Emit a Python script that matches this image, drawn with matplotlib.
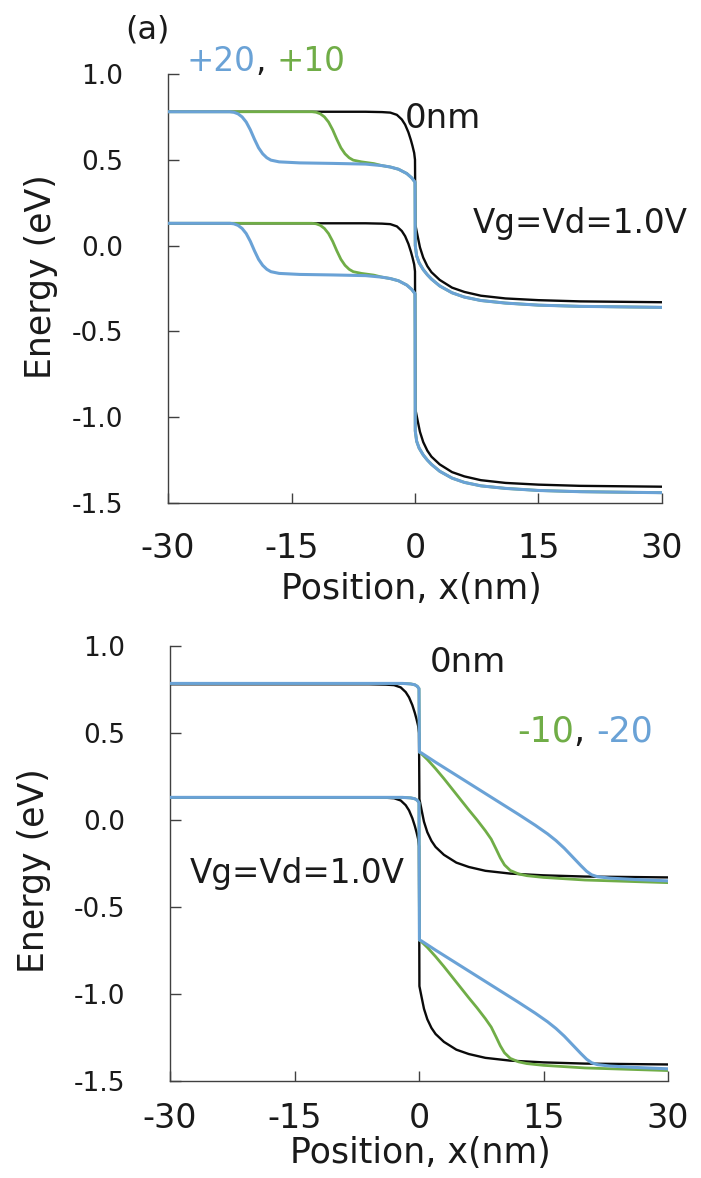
import matplotlib
matplotlib.use("Agg")
import matplotlib.pyplot as plt

plt.rcParams['font.family'] = ['DejaVu Sans']
plt.rcParams['axes.unicode_minus'] = False

BLUE = '#6aa2d6'
GREEN = '#70ad47'
BLACK = '#0a0a0a'
AXC = '#404040'

x_ticks = [-30, -15, 0, 15, 30]
x_tick_labels = ['-30', '-15', '0', '15', '30']
y_ticks = [1.0, 0.5, 0.0, -0.5, -1.0, -1.5]
y_tick_labels = ['1.0', '0.5', '0.0', '-0.5', '-1.0', '-1.5']

# ---------------- 0 nm (both panels) ----------------
x_0nm = [-30, -6, -4, -3, -2.2, -1.6, -1.2, -0.8, -0.5, -0.3, -0.1, 0.0,
         0.05, 0.3, 0.6, 1, 1.5, 2, 3, 4.5, 6, 8, 11, 15, 20, 30]
e_0nm_cb = [0.78, 0.78, 0.778, 0.775, 0.762, 0.735, 0.705, 0.66, 0.615, 0.58, 0.54, 0.5,
            0.12, 0.06, -0.01, -0.07, -0.12, -0.155, -0.2, -0.245, -0.27, -0.292, -0.308, -0.318, -0.325, -0.33]
e_0nm_vb = [0.13, 0.13, 0.128, 0.125, 0.112, 0.085, 0.055, 0.01, -0.035, -0.07, -0.11, -0.15,
            -0.955, -1.015, -1.085, -1.145, -1.195, -1.23, -1.275, -1.32, -1.345, -1.367, -1.383, -1.393, -1.4, -1.405]

# ---------------- top panel: +20 nm, +10 nm ----------------
x_p20 = [-30, -22.5, -22, -21.5, -21, -20.5, -20, -19.5, -19, -18.5, -18, -17.5, -16.5, -14, -10,
         -6, -4, -3, -2, -1, -0.4, 0.0,
         0.03, 0.2, 0.5, 1, 1.5, 2, 3, 4.5, 6, 8, 11, 15, 20, 30]
e_p20_cb = [0.78, 0.78, 0.777, 0.768, 0.75, 0.72, 0.675, 0.62, 0.57, 0.535, 0.512, 0.498, 0.488, 0.482, 0.479,
            0.475, 0.466, 0.458, 0.445, 0.42, 0.395, 0.37,
            0.0, -0.06, -0.1, -0.14, -0.17, -0.195, -0.235, -0.275, -0.3, -0.32, -0.335, -0.347, -0.354, -0.36]
e_p20_vb = [0.13, 0.13, 0.127, 0.118, 0.1, 0.07, 0.025, -0.03, -0.08, -0.115, -0.138, -0.152, -0.162, -0.168, -0.171,
            -0.175, -0.184, -0.192, -0.205, -0.23, -0.255, -0.28,
            -1.08, -1.14, -1.18, -1.22, -1.25, -1.275, -1.315, -1.355, -1.38, -1.4, -1.415, -1.427, -1.434, -1.44]

x_p10 = [-30, -12.5, -12, -11.5, -11, -10.5, -10, -9.5, -9, -8.5, -8, -7.5, -6.5, -5,
         -4, -3, -2, -1, -0.4, 0.0,
         0.03, 0.2, 0.5, 1, 1.5, 2, 3, 4.5, 6, 8, 11, 15, 20, 30]
e_p10_cb = [0.78, 0.78, 0.777, 0.768, 0.75, 0.72, 0.675, 0.62, 0.57, 0.535, 0.512, 0.498, 0.488, 0.478,
            0.466, 0.458, 0.445, 0.42, 0.395, 0.37,
            0.0, -0.06, -0.1, -0.14, -0.17, -0.195, -0.235, -0.275, -0.3, -0.32, -0.335, -0.347, -0.354, -0.36]
e_p10_vb = [0.13, 0.13, 0.127, 0.118, 0.1, 0.07, 0.025, -0.03, -0.08, -0.115, -0.138, -0.152, -0.162, -0.172,
            -0.184, -0.192, -0.205, -0.23, -0.255, -0.28,
            -1.08, -1.14, -1.18, -1.22, -1.25, -1.275, -1.315, -1.355, -1.38, -1.4, -1.415, -1.427, -1.434, -1.44]

# ---------------- bottom panel: -10 nm, -20 nm ----------------
x_m20 = [-30, -2, -1, -0.5, -0.2, 0.0,
         0.05, 0.3, 2, 4, 6, 8, 10, 12, 14, 15.5, 16.5, 17.5, 18.5, 19.5, 20.2, 20.8, 21.5, 23, 26, 30]
e_m20_cb = [0.785, 0.785, 0.782, 0.777, 0.768, 0.755,
            0.39, 0.385, 0.332, 0.272, 0.212, 0.152, 0.092, 0.032, -0.03, -0.08, -0.118, -0.162, -0.212, -0.262,
            -0.295, -0.315, -0.326, -0.334, -0.342, -0.35]
e_m20_vb = [0.13, 0.13, 0.127, 0.122, 0.113, 0.1,
            -0.69, -0.695, -0.748, -0.808, -0.868, -0.928, -0.988, -1.048, -1.11, -1.16, -1.198, -1.242, -1.292, -1.342,
            -1.375, -1.395, -1.406, -1.414, -1.422, -1.43]

x_m10 = [-30, -2, -1, -0.5, -0.2, 0.0,
         0.05, 0.3, 1, 2, 3, 4, 5, 6, 7, 8, 8.7, 9.3, 9.8, 10.3, 11, 12, 13, 15, 20, 30]
e_m10_cb = [0.785, 0.785, 0.782, 0.777, 0.768, 0.755,
            0.39, 0.38, 0.348, 0.295, 0.238, 0.178, 0.118, 0.058, 0.0, -0.062, -0.11, -0.168, -0.218, -0.258,
            -0.29, -0.31, -0.32, -0.33, -0.345, -0.36]
e_m10_vb = [0.13, 0.13, 0.127, 0.122, 0.113, 0.1,
            -0.69, -0.70, -0.732, -0.785, -0.842, -0.902, -0.962, -1.022, -1.08, -1.142, -1.19, -1.248, -1.298, -1.338,
            -1.37, -1.39, -1.40, -1.41, -1.425, -1.44]

W, H = 701, 1178
fig = plt.figure(figsize=(W / 100, H / 100), dpi=100)


def px(x, y):
    return x / W, 1 - y / H


def style(ax, xpad, ypad):
    ax.set_xlim(-30, 30)
    ax.set_ylim(-1.5, 1.0)
    for s in ('top', 'right'):
        ax.spines[s].set_visible(False)
    for s in ('left', 'bottom'):
        ax.spines[s].set_color(AXC)
        ax.spines[s].set_linewidth(1.0)
    ax.set_xticks(x_ticks)
    ax.set_xticklabels(x_tick_labels)
    ax.set_yticks(y_ticks)
    ax.set_yticklabels(y_tick_labels)
    ax.tick_params(axis='x', direction='in', length=7, width=1, color=AXC,
                   labelsize=24, pad=xpad, labelcolor='#1a1a1a')
    ax.tick_params(axis='y', direction='in', length=8, width=1, color=AXC,
                   labelsize=19, pad=ypad, labelcolor='#1a1a1a')
    ax.set_xlabel('Position, x(nm)', fontsize=25, color='#1a1a1a')
    ax.set_ylabel('Energy (eV)', fontsize=25, color='#1a1a1a')
    ax.yaxis.label.set_va('center')


# ---------- top panel ----------
ax1 = fig.add_axes([168 / W, 1 - 503 / H, 494 / W, 429 / H])
style(ax1, 21, 32)
ax1.xaxis.set_label_coords(0.492, -0.161)
ax1.yaxis.set_label_coords(-0.257, 0.528)
for e in (e_0nm_cb, e_0nm_vb):
    ax1.plot(x_0nm, e, color=BLACK, lw=1.7, zorder=2)
for e in (e_p10_cb, e_p10_vb):
    ax1.plot(x_p10, e, color=GREEN, lw=2.0, zorder=3)
for e in (e_p20_cb, e_p20_vb):
    ax1.plot(x_p20, e, color=BLUE, lw=2.2, zorder=4)

# ---------- bottom panel ----------
ax2 = fig.add_axes([170 / W, 1 - 1081 / H, 498 / W, 435 / H])
style(ax2, 15, 32)
ax2.xaxis.set_label_coords(0.502, -0.126)
ax2.yaxis.set_label_coords(-0.274, 0.483)
for e in (e_0nm_cb, e_0nm_vb):
    ax2.plot(x_0nm, e, color=BLACK, lw=1.7, zorder=2)
for e in (e_m10_cb, e_m10_vb):
    ax2.plot(x_m10, e, color=GREEN, lw=2.0, zorder=3)
for e in (e_m20_cb, e_m20_vb):
    ax2.plot(x_m20, e, color=BLUE, lw=2.2, zorder=4)

# ---------- annotations ----------
TXT = '#1a1a1a'
fig.text(*px(147, 30), '(a)', fontsize=23, ha='center', va='center', color=TXT)
fig.text(*px(443, 128), '0nm', fontsize=24.5, ha='center', va='baseline', color=TXT)
fig.text(*px(580, 233), 'Vg=Vd=1.0V', fontsize=23.5, ha='center', va='baseline', color=TXT)
fig.text(*px(468, 672), '0nm', fontsize=24.5, ha='center', va='baseline', color=TXT)
fig.text(*px(297, 883), 'Vg=Vd=1.0V', fontsize=23.5, ha='center', va='baseline', color=TXT)

renderer = fig.canvas.get_renderer()


def chain(x0, y0, parts, size):
    x, y = px(x0, y0)
    for s, c in parts:
        t = fig.text(x, y, s, fontsize=size, ha='left', va='baseline', color=c)
        bb = t.get_window_extent(renderer=renderer)
        x = bb.x1 / W


chain(187, 71, [('+20', BLUE), (', ', TXT), ('+10', GREEN)], 23.5)
chain(517, 742, [('-10', GREEN), (', ', TXT), ('-20', BLUE)], 25)

fig.savefig('out.png', dpi=100)
